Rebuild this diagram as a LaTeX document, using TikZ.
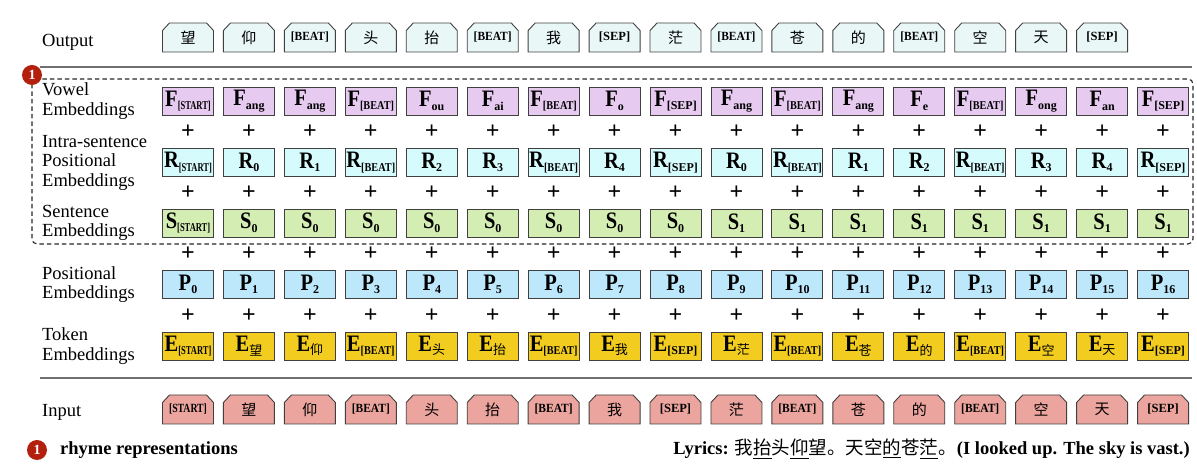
\documentclass[tikz,border=0pt]{standalone}
\usepackage{fontspec}
\usepackage{graphicx}
\usetikzlibrary{calc}
\setmainfont{Liberation Serif}
\newfontfamily\cjk{Noto Sans CJK SC}
\definecolor{outfill}{HTML}{EAF7F7}
\definecolor{infill}{HTML}{EBA59E}
\definecolor{ffill}{HTML}{E7CAF0}
\definecolor{rfill}{HTML}{D6FBFD}
\definecolor{sfill}{HTML}{D4EDB3}
\definecolor{pfill}{HTML}{BDE8FB}
\definecolor{efill}{HTML}{F2CD1F}
\definecolor{edge}{HTML}{404040}
\definecolor{rule}{HTML}{707070}
\definecolor{badgered}{HTML}{B3200E}
\newcommand\fsz[1]{\fontsize{#1}{#1}\selectfont}
\newcommand\sqz[2]{\resizebox{#1}{\height}{#2}}
% embedding box content
\newcommand\emb[2]{\scalebox{1}[1.15]{\bfseries\fsz{20.5}#1}\raisebox{-3.5pt}{\bfseries\fsz{12}#2}}
\newcommand\sST{\sqz{33pt}{[START]}}
\newcommand\sBT{\sqz{34pt}{[BEAT]}}
\newcommand\sSP{[SEP]}
\newcommand\sCJ[1]{{\cjk\mdseries\fsz{13}#1}}
% token content
\newcommand\TB{\sqz{38pt}{\bfseries\fsz{12.5}[BEAT]}}
\newcommand\TS{\sqz{38pt}{\bfseries\fsz{12.5}[START]}}
\newcommand\TP{{\bfseries\fsz{12.5}[SEP]}}
\newcommand\TC[1]{{\cjk\fsz{15}#1}}
\tikzset{
  embbox/.style={draw=edge, line width=0.9pt, minimum width=51pt, minimum height=28pt, inner sep=0pt},
  tokshape/.style={draw=edge, line width=0.9pt},
  toktxt/.style={inner sep=0pt},
  plussign/.style={inner sep=0pt, font=\bfseries\fsz{24}},
  rowlabel/.style={anchor=west, align=left, inner sep=0pt, font=\fontsize{18.5}{19.5}\selectfont},
  seprule/.style={draw=rule, line width=1.3pt},
  dashbox/.style={draw=black!85, line width=1.1pt, dash pattern=on 4.5pt off 3pt, rounded corners=5pt},
  badge/.style={circle, fill=badgered, text=white, inner sep=0pt, minimum size=20pt, font=\bfseries\fsz{14}},
  foot/.style={inner sep=0pt, font=\fsz{18.5}}
}
\begin{document}
\begin{tikzpicture}[x=1pt, y=1pt]
\useasboundingbox (0,0) rectangle (1197,476);
% separators
\draw[seprule] (40,409) -- (1192,409);
\draw[seprule] (40,98) -- (1192,98);
% dashed region
\draw[dashbox] (32,397) rectangle (1193,232);
% row labels
\node[rowlabel, anchor=base west] (lout) at (42,429) {Output};
\node[rowlabel] (lf) at (42,375) {Vowel\\Embeddings};
\node[rowlabel] (lr) at (42,313.5) {Intra-sentence\\Positional\\Embeddings};
\node[rowlabel] (ls) at (42,253) {Sentence\\Embeddings};
\node[rowlabel] (lp) at (42,191.5) {Positional\\Embeddings};
\node[rowlabel] (le) at (42,130) {Token\\Embeddings};
\node[rowlabel, anchor=base west] (lin) at (42,59) {Input};
% output tokens
\foreach \t [count=\i from 0] in {\TC{望},\TC{仰},\TB,\TC{头},\TC{抬},\TB,\TC{我},\TP,\TC{茫},\TB,\TC{苍},\TC{的},\TB,\TC{空},\TC{天},\TP}{
  \pgfmathsetmacro\xx{188+60.94*\i}
  \begin{scope}[shift={(\xx,438.5)}]
    \path[tokshape, fill=outfill] (-25.5,-14.5) -- (25.5,-14.5) -- (25.5,7) -- (18.5,14.5) -- (-18.5,14.5) -- (-25.5,7) -- cycle;
    \node[toktxt] (o\i) at (0,0) {\t};
  \end{scope}
}
% input tokens
\foreach \t [count=\i from 0] in {\TS,\TC{望},\TC{仰},\TB,\TC{头},\TC{抬},\TB,\TC{我},\TP,\TC{茫},\TB,\TC{苍},\TC{的},\TB,\TC{空},\TC{天},\TP}{
  \pgfmathsetmacro\xx{188+60.94*\i}
  \begin{scope}[shift={(\xx,66.5)}]
    \path[tokshape, fill=infill] (-25.5,-14.5) -- (25.5,-14.5) -- (25.5,7) -- (18.5,14.5) -- (-18.5,14.5) -- (-25.5,7) -- cycle;
    \node[toktxt] (in\i) at (0,0) {\t};
  \end{scope}
}
% vowel embeddings
\foreach \t [count=\i from 0] in {\sST,ang,ang,\sBT,ou,ai,\sBT,o,\sSP,ang,\sBT,ang,e,\sBT,ong,an,\sSP}{
  \node[embbox, fill=ffill] (f\i) at ({188+60.94*\i},375) {\emb{F}{\t}};
}
% intra-sentence positional
\foreach \t [count=\i from 0] in {\sST,0,1,\sBT,2,3,\sBT,4,\sSP,0,\sBT,1,2,\sBT,3,4,\sSP}{
  \node[embbox, fill=rfill] (r\i) at ({188+60.94*\i},313.5) {\emb{R}{\t}};
}
% sentence embeddings
\foreach \t [count=\i from 0] in {\sST,0,0,0,0,0,0,0,0,1,1,1,1,1,1,1,1}{
  \node[embbox, fill=sfill] (s\i) at ({188+60.94*\i},253) {\emb{S}{\t}};
}
% positional
\foreach \i in {0,...,16}{
  \node[embbox, fill=pfill] (p\i) at ({188+60.94*\i},191.5) {\emb{P}{\i}};
}
% token embeddings
\foreach \t [count=\i from 0] in {\sST,\sCJ{望},\sCJ{仰},\sBT,\sCJ{头},\sCJ{抬},\sBT,\sCJ{我},\sSP,\sCJ{茫},\sBT,\sCJ{苍},\sCJ{的},\sBT,\sCJ{空},\sCJ{天},\sSP}{
  \node[embbox, fill=efill] (e\i) at ({188+60.94*\i},130) {\emb{E}{\t}};
}
% plus signs
\foreach \i in {0,...,16}{
  \node[plussign] (pfr\i) at ($(f\i)!0.5!(r\i)$) {+};
  \node[plussign] (prs\i) at ($(r\i)!0.5!(s\i)$) {+};
  \node[plussign] (psp\i) at ($(s\i)!0.5!(p\i)$) {+};
  \node[plussign] (ppe\i) at ($(p\i)!0.5!(e\i)$) {+};
}
% badges and footer
\node[badge] (b1) at (32,401) {1};
\node[badge] (b2) at (37,26) {1};
\node[foot, anchor=base west, font=\bfseries\fsz{18.5}] (legend) at (60,21) {rhyme representations};
\node[foot, anchor=base east] (lyrics) at (1190,21) {\textbf{Lyrics:} {\cjk 我\underline{抬}头\underline{仰}望。天空\underline{的}苍\underline{茫}。}\textbf{(I looked up. The sky is vast.)}};
\end{tikzpicture}
\end{document}
